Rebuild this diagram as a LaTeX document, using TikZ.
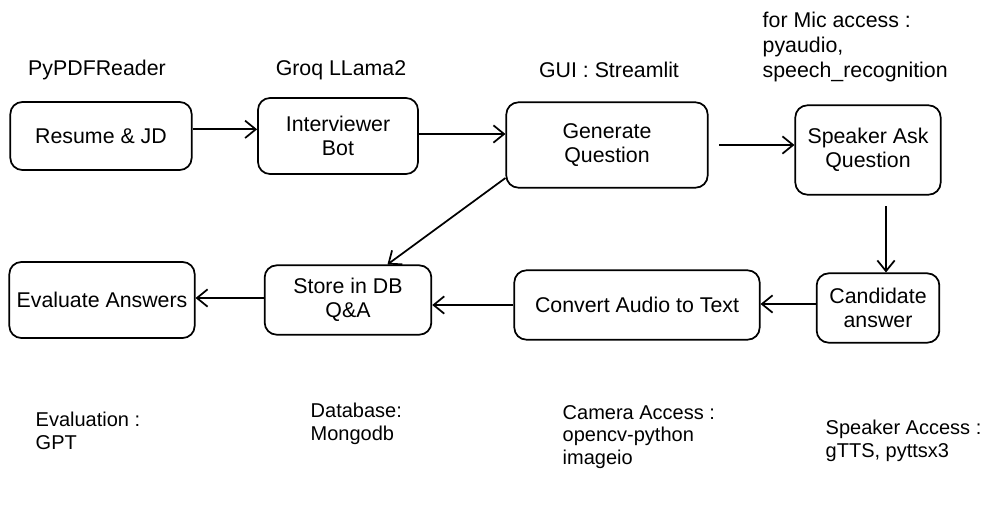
\documentclass[tikz,border=0pt]{standalone}
\usepackage{fontspec}
\setmainfont{Liberation Sans}
\usetikzlibrary{arrows.meta,calc,positioning}
\begin{document}
\begin{tikzpicture}[
			x=0.75pt, y=-0.75pt,
			etape/.style={draw, rounded corners=9pt, line width=1.3pt, align=center, inner sep=2pt, font=\fontsize{16}{18}\selectfont},
			outil/.style={align=left, anchor=west, font=\fontsize{15}{17}\selectfont},
			titre/.style={font=\fontsize{16}{18}\selectfont},
			fleche/.style={->, line width=1.3pt},
			>={Straight Barb[length=8pt,width=13pt]}
			]
			\useasboundingbox (0,0) rectangle (996,511);

			% Les etapes
			\node[etape, minimum width=136pt, minimum height=51pt] (res) at (101,136) {Resume \& JD};
			\node[etape, minimum width=120pt, minimum height=57pt] (bot) at (338,136) {Interviewer\\Bot};
			\node[etape, minimum width=151pt, minimum height=64pt] (gen) at (607,145) {Generate\\Question};
			\node[etape, minimum width=109pt, minimum height=67pt] (spk) at (868,150) {Speaker Ask\\Question};
			\node[etape, minimum width=92pt, minimum height=52pt] (cand) at (878,308) {Candidate\\answer};
			\node[etape, minimum width=184pt, minimum height=52pt] (conv) at (637,305) {Convert Audio to Text};
			\node[etape, minimum width=125pt, minimum height=52pt] (store) at (348,300) {Store in DB\\Q\&A};
			\node[etape, minimum width=139pt, minimum height=57pt] (eval) at (102,300) {Evaluate Answers};

			% Les outils
			\node[titre] (pdf) at (97,70) {PyPDFReader};
			\node[titre] (groq) at (341,70) {Groq LLama2};
			\node[titre] (gui) at (609,70) {GUI : Streamlit};
			\node[outil, font=\fontsize{16}{18.5}\selectfont] (mic) at (758,47) {for Mic access :\\pyaudio,\\speech\_recognition};
			\node[outil] (gpt) at (31,431) {Evaluation :\\GPT};
			\node[outil] (db) at (306,424) {Database:\\Mongodb};
			\node[outil] (cam) at (558,437) {Camera Access :\\opencv-python\\imageio};
			\node[outil] (tts) at (821,441) {Speaker Access :\\gTTS, pyttsx3};

			% Les fleches
			\draw[fleche] ([yshift=5pt]res.east) -- ([yshift=5pt]res.east -| bot.west);
			\draw[fleche] ([yshift=1.5pt]bot.east) -- ([yshift=1.5pt]bot.east -| gen.west);
			\draw[fleche, shorten <=8pt] (gen.east) -- (gen.east -| spk.west);
			\draw[fleche, shorten <=8pt] ([xshift=6pt]cand.north |- spk.south) -- ([xshift=6pt]cand.north);
			\draw[fleche] ([yshift=3pt]cand.west) -- ([yshift=3pt]cand.west -| conv.east);
			\draw[fleche] (conv.west) -- (conv.west -| store.east);
			\draw[fleche] ([yshift=1.5pt]store.west) -- ([yshift=1.5pt]store.west -| eval.east);
			\draw[fleche] (gen.198) -- (store.42);
		\end{tikzpicture}
\end{document}
